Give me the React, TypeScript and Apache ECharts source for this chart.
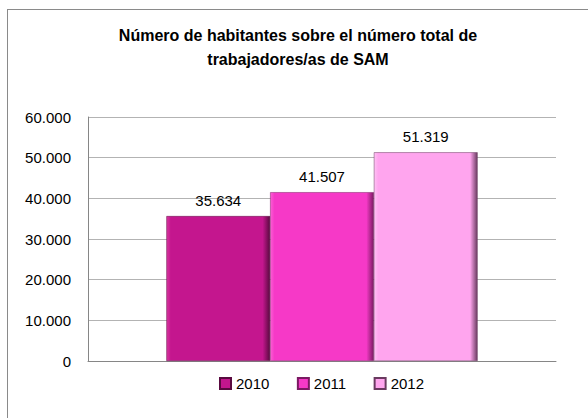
import React, { useEffect, useRef } from "react";
import * as echarts from "echarts";

const categories = ["Total"];
const seriesNames = ["2010", "2011", "2012"];
const values2010 = [35634];
const values2011 = [41507];
const values2012 = [51319];
const yTicks = [0, 10000, 20000, 30000, 40000, 50000, 60000];

const baseColors = ["#C4168E", "#F639C7", "#FFA5EE"];
const darkColors = ["#5A0A40", "#7A1A62", "#6A3A60"];
const lightColors = ["#D9379F", "#FA5FD4", "#FFC2F4"];

function fmt(v: number): string {
  return String(Math.round(v)).replace(/\B(?=(\d{3})+(?!\d))/g, ".");
}

function grad(i: number) {
  return new echarts.graphic.LinearGradient(0, 0, 1, 0, [
    { offset: 0, color: lightColors[i] },
    { offset: 0.04, color: baseColors[i] },
    { offset: 0.93, color: baseColors[i] },
    { offset: 1, color: darkColors[i] },
  ]);
}

const FONT = "'Liberation Sans', Arial, sans-serif";

export default function App() {
  const ref = useRef<HTMLDivElement>(null);
  useEffect(() => {
    if (!ref.current) return;
    const chart = echarts.init(ref.current, null, { renderer: "svg" });
    const data = [values2010, values2011, values2012];
    chart.setOption({
      animation: false,
      backgroundColor: "transparent",
      textStyle: { fontFamily: FONT },
      title: {
        text: "Número de habitantes sobre el número total de\ntrabajadores/as de SAM",
        left: 293,
        textAlign: "center",
        top: 18,
        textStyle: {
          fontFamily: FONT,
          fontSize: 16,
          fontWeight: "bold",
          color: "#000",
          lineHeight: 24,
        },
      },
      legend: {
        left: 214,
        top: 371,
        itemWidth: 11,
        itemHeight: 11,
        itemGap: 27.5,
        icon: "rect",
        textStyle: { fontFamily: FONT, fontSize: 15, color: "#000" },
        data: seriesNames,
      },
      grid: { left: 88, right: 32, top: 117, bottom: 57 },
      xAxis: {
        type: "category",
        data: categories,
        axisLine: { lineStyle: { color: "#868686" } },
        axisTick: { show: false },
        axisLabel: { show: false },
      },
      yAxis: {
        type: "value",
        min: 0,
        max: 60000,
        interval: 10000,
        axisLine: { show: true, lineStyle: { color: "#868686" } },
        axisTick: { show: false },
        splitLine: { lineStyle: { color: "#b3b3b3" } },
        axisLabel: {
          fontFamily: FONT,
          fontSize: 15,
          color: "#000",
          margin: 17,
          formatter: (v: number) => (yTicks.includes(v) ? fmt(v) : ""),
        },
      },
      series: seriesNames.map((name, i) => ({
        name,
        type: "bar",
        data: data[i],
        barGap: "0%",
        barCategoryGap: "33.5%",
        itemStyle: {
          color: grad(i),
          borderColor: darkColors[i],
          borderWidth: 0.5,
        },
        label: {
          show: true,
          position: "top",
          distance: 8,
          fontFamily: FONT,
          fontSize: 15,
          color: "#000",
          formatter: (p: any) => fmt(p.value),
        },
      })),
      color: baseColors,
    });
    return () => chart.dispose();
  }, []);
  return (
    <div
      style={{
        position: "fixed",
        left: 0,
        top: 0,
        width: 588,
        height: 418,
        background: "#fff",
        overflow: "hidden",
      }}
    >
      <div
        style={{
          position: "absolute",
          left: 7,
          top: 9,
          width: 700,
          height: 600,
          borderLeft: "1px solid #8a8a8a",
          borderTop: "1px solid #8a8a8a",
          boxSizing: "border-box",
        }}
      />
      <div
        ref={ref}
        style={{ position: "absolute", left: 0, top: 0, width: 588, height: 418 }}
      />
    </div>
  );
}
